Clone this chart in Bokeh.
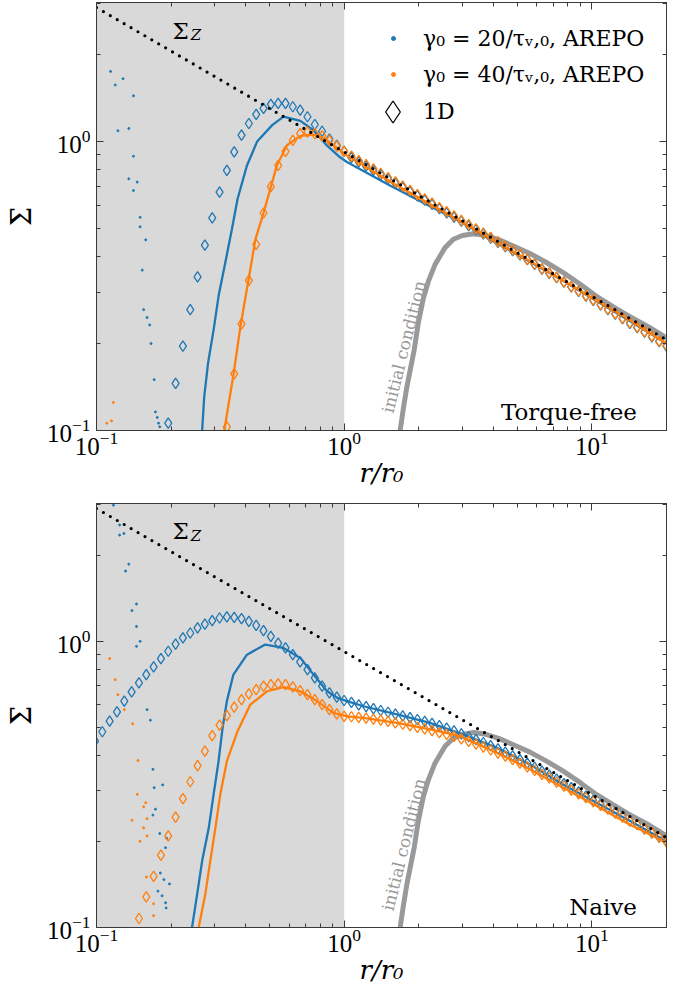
import numpy as np
from bokeh.plotting import figure
from bokeh.layouts import column
from bokeh.models import (BoxAnnotation, Label, Legend, LegendItem, LogAxis,
                          FixedTicker, Range1d)
from bokeh.core.properties import value
from bokeh.embed import file_html
from bokeh.resources import INLINE

# ---------------- data ----------------
x_lo, x_hi = 0.1, 20.0
y_lo, y_hi = 0.1, 3.03
shade_edge = 1.0

x_major = [0.1, 1.0, 10.0]
x_minor = [0.2, 0.3, 0.4, 0.5, 0.6, 0.7, 0.8, 0.9, 2, 3, 4, 5, 6, 7, 8, 9, 20]
y_major = [0.1, 1.0]
y_minor = [0.2, 0.3, 0.4, 0.5, 0.6, 0.7, 0.8, 0.9, 2, 3]

# Sigma_Z (dotted power law)
sigma_z_r = [0.1, 20.0]
sigma_z = [2.91, 0.206]

# initial condition
init_r = [1.64, 1.682, 1.735, 1.79, 1.916, 1.99, 2.088, 2.188, 2.328, 2.553, 2.759, 3.0,
          3.322, 3.7, 4.2, 4.816, 5.62, 6.5, 7.66, 9.0, 10.45, 12.2, 14.2, 17.0, 20.0]
init_sigma = [0.075, 0.1, 0.12, 0.1415, 0.19, 0.235, 0.2876, 0.3287, 0.3758, 0.4296, 0.459, 0.473,
              0.48, 0.474, 0.458, 0.435, 0.41, 0.383, 0.352, 0.32, 0.291, 0.268, 0.248, 0.228, 0.209]

# radial grid of the 1D solutions (log-spaced sampling)
grid_1d = np.geomspace(0.0986, 20.0, 79)

# ---- top panel: torque-free ----
top_arepo20_r = [0.264, 0.267, 0.272, 0.282, 0.297, 0.311, 0.331, 0.352, 0.371, 0.405, 0.445, 0.512,
                 0.569, 0.665, 0.752, 0.851, 0.95, 1.025, 1.53, 2.2, 3.0, 4.0, 5.5, 7.5, 10.0, 14.0, 20.0]
top_arepo20 = [0.093, 0.10, 0.13, 0.171, 0.223, 0.292, 0.381, 0.497, 0.633, 0.827, 1.0, 1.14,
               1.22, 1.18, 1.095, 0.97, 0.89, 0.85, 0.705, 0.60, 0.525, 0.452, 0.388, 0.333, 0.287, 0.241, 0.200]
top_arepo40_r = [0.326, 0.328, 0.358, 0.381, 0.411, 0.438, 0.473, 0.535, 0.587, 0.665, 0.752, 0.826,
                 0.905, 1.025, 1.53, 2.2, 3.0, 4.0, 5.5, 7.5, 10.0, 14.0, 20.0]
top_arepo40 = [0.094, 0.1, 0.158, 0.229, 0.333, 0.459, 0.569, 0.827, 0.971, 1.047, 1.058, 1.03,
               0.971, 0.896, 0.727, 0.61, 0.527, 0.456, 0.39, 0.334, 0.288, 0.243, 0.200]
top_noise20_r = [0.114, 0.119, 0.128, 0.141, 0.122, 0.135, 0.141, 0.135, 0.141, 0.146, 0.150, 0.150,
                 0.158, 0.153, 0.155, 0.160, 0.164, 0.166, 0.171, 0.173, 0.176, 0.178, 0.180]
top_noise20 = [1.75, 1.57, 1.65, 1.44, 1.09, 1.11, 0.89, 0.743, 0.677, 0.724, 0.547, 0.507,
               0.457, 0.359, 0.262, 0.246, 0.232, 0.20, 0.15, 0.116, 0.111, 0.106, 0.103]
top_noise40_r = [0.117, 0.110, 0.115]
top_noise40 = [0.125, 0.106, 0.108]
# 1D values on the last len(...) points of grid_1d
top_1d20 = [0.106, 0.1455, 0.196, 0.262, 0.340, 0.438, 0.544, 0.668, 0.795, 0.921,
            1.052, 1.155, 1.242, 1.303, 1.345, 1.356, 1.356, 1.32, 1.285, 1.219,
            1.146, 1.086, 1.02, 0.97, 0.925,
            0.880, 0.850, 0.822, 0.795, 0.768, 0.743, 0.718, 0.694, 0.671, 0.649,
            0.627, 0.606, 0.586, 0.567, 0.548, 0.530, 0.512, 0.496, 0.479, 0.463,
            0.448, 0.433, 0.419, 0.405, 0.390, 0.376, 0.362, 0.350, 0.338, 0.326,
            0.314, 0.303, 0.292, 0.282, 0.272, 0.262, 0.253, 0.244, 0.235, 0.227,
            0.219, 0.211, 0.203, 0.196]
top_1d40 = [0.103, 0.157, 0.234, 0.331, 0.441, 0.566, 0.699, 0.827, 0.925, 1.01,
            1.066, 1.08, 1.066, 1.047, 1.01, 0.965, 0.925,
            0.890, 0.860, 0.832, 0.804, 0.777, 0.751, 0.726, 0.701, 0.678, 0.655,
            0.633, 0.612, 0.591, 0.572, 0.553, 0.534, 0.516, 0.499, 0.482, 0.466,
            0.450, 0.435, 0.421, 0.407, 0.391, 0.377, 0.363, 0.351, 0.339, 0.327,
            0.315, 0.304, 0.293, 0.283, 0.273, 0.263, 0.254, 0.245, 0.236, 0.228,
            0.220, 0.212, 0.204, 0.197]

# ---- bottom panel: naive ----
bot_arepo20_r = [0.241, 0.243, 0.255, 0.267, 0.284, 0.297, 0.311, 0.323, 0.336, 0.357, 0.405, 0.48,
                 0.569, 0.665, 0.752, 0.851, 0.94, 1.025, 1.197, 1.632, 2.22, 3.03, 4.13, 5.62,
                 7.66, 10.45, 14.2, 20.0]
bot_arepo20 = [0.094, 0.1, 0.131, 0.171, 0.223, 0.292, 0.381, 0.5, 0.618, 0.765, 0.898, 0.974,
               0.948, 0.875, 0.765, 0.67, 0.634, 0.618, 0.593, 0.555, 0.519, 0.472, 0.425, 0.371,
               0.316, 0.273, 0.236, 0.200]
bot_arepo40_r = [0.255, 0.2585, 0.275, 0.288, 0.302, 0.316, 0.336, 0.371, 0.418, 0.488, 0.569, 0.665,
                 0.776, 0.905, 1.025, 1.197, 1.632, 2.22, 2.94, 4.13, 5.62, 7.66, 10.45, 14.2, 20.0]
bot_arepo40 = [0.094, 0.1, 0.131, 0.171, 0.223, 0.292, 0.381, 0.485, 0.601, 0.669, 0.691, 0.669,
               0.618, 0.562, 0.547, 0.54, 0.519, 0.492, 0.466, 0.408, 0.357, 0.308, 0.266, 0.229, 0.198]
bot_noise20_r = [0.117, 0.124, 0.124, 0.129, 0.135, 0.131, 0.145, 0.139, 0.145, 0.150,
                 0.145, 0.160, 0.165, 0.169, 0.171, 0.185, 0.173, 0.169, 0.180, 0.192,
                 0.190, 0.181, 0.187, 0.197, 0.177, 0.184, 0.190, 0.191]
bot_noise20 = [2.99, 2.55, 2.35, 2.38, 1.86, 1.76, 1.349, 1.28, 1.127, 1.0,
               0.96, 0.577, 0.53, 0.357, 0.308, 0.315, 0.259, 0.247, 0.213, 0.205,
               0.19, 0.155, 0.147, 0.142, 0.134, 0.129, 0.122, 0.117]
bot_noise40_r = [0.113, 0.119, 0.122, 0.1296, 0.14, 0.147, 0.146, 0.158, 0.155, 0.139,
                 0.16, 0.155, 0.16, 0.15, 0.159, 0.17, 0.17]
bot_noise40 = [0.87, 0.734, 0.651, 0.577, 0.515, 0.383, 0.292, 0.273, 0.264, 0.237,
               0.24, 0.223, 0.209, 0.2, 0.15, 0.121, 0.11]
bot_1d20 = [0.448, 0.483, 0.526, 0.567, 0.618, 0.666, 0.716, 0.765, 0.814, 0.87, 0.923,
            0.978, 1.027, 1.069, 1.113, 1.149, 1.18, 1.206, 1.218, 1.212, 1.2,
            1.174, 1.137, 1.089, 1.041, 0.986, 0.948, 0.899, 0.847, 0.796, 0.745,
            0.697, 0.66, 0.638, 0.621,
            0.612, 0.600, 0.591, 0.582, 0.573, 0.565, 0.557, 0.549, 0.541, 0.533,
            0.525, 0.517, 0.507, 0.497, 0.486, 0.475, 0.464, 0.453, 0.443, 0.432,
            0.421, 0.410, 0.398, 0.386, 0.375, 0.363, 0.352, 0.341, 0.330, 0.318,
            0.308, 0.298, 0.288, 0.278, 0.270, 0.261, 0.253, 0.245, 0.236, 0.229,
            0.221, 0.214, 0.207, 0.200]
bot_1d40 = [0.1075, 0.128, 0.151, 0.179, 0.209, 0.243, 0.282, 0.323, 0.368, 0.413,
            0.468, 0.509, 0.55, 0.589, 0.626, 0.655, 0.678, 0.697, 0.706, 0.710,
            0.706, 0.693, 0.673, 0.651, 0.626, 0.601, 0.577, 0.558, 0.547,
            0.545, 0.542, 0.539, 0.535, 0.530, 0.525, 0.519, 0.513, 0.507, 0.500,
            0.494, 0.487, 0.480, 0.473, 0.465, 0.456, 0.447, 0.437, 0.427, 0.417,
            0.407, 0.397, 0.386, 0.375, 0.364, 0.354, 0.343, 0.333, 0.322, 0.312,
            0.302, 0.293, 0.284, 0.275, 0.267, 0.259, 0.251, 0.243, 0.236, 0.229,
            0.221, 0.214, 0.207, 0.199]

legend_labels = ["γ₀ = 20/τᵥ,₀, AREPO", "γ₀ = 40/τᵥ,₀, AREPO", "1D"]
panel_names = ["Torque-free", "Naive"]

# ---------------- style ----------------
BLUE, ORANGE = "#1f77b4", "#ff7f0e"
AXC = "#3a3a3a"
SHADE = "#d9d9d9"
INIT_C = "#999999"
SERIF = "DejaVu Serif"
TICKF = "Liberation Serif"
W = 668


def style_axis(ax, labels=True):
    ax.major_tick_in = 7
    ax.major_tick_out = 0
    ax.minor_tick_in = 4
    ax.minor_tick_out = 0
    ax.axis_line_color = AXC
    ax.major_tick_line_color = AXC
    ax.minor_tick_line_color = AXC
    if labels:
        ax.major_label_text_font = TICKF
        ax.major_label_text_font_size = "25px"
        ax.major_label_text_color = "black"
        ax.axis_label_text_color = "black"
    else:
        ax.major_label_text_font_size = "0px"
        ax.major_label_text_alpha = 0
        ax.major_label_standoff = 0


def make_panel(h, b_top, b_bottom, a20_r, a20, a40_r, a40, n20_r, n20, n40_r, n40,
               d20, d40, name, name_y):
    p = figure(width=W, height=h, x_axis_type="log", y_axis_type="log",
               x_range=Range1d(x_lo, x_hi), y_range=Range1d(y_lo, y_hi),
               output_backend="svg", toolbar_location=None,
               min_border_left=96, min_border_right=2,
               min_border_top=b_top, min_border_bottom=b_bottom)
    p.xgrid.visible = False
    p.ygrid.visible = False
    p.outline_line_color = AXC
    p.background_fill_color = "white"

    p.xaxis.ticker = FixedTicker(ticks=x_major, minor_ticks=x_minor)
    p.yaxis.ticker = FixedTicker(ticks=y_major, minor_ticks=y_minor)
    for ax in p.xaxis + p.yaxis:
        style_axis(ax)
    p.xaxis.major_label_standoff = 1
    p.yaxis.major_label_standoff = 6
    p.xaxis.axis_label = "r/r₀"
    p.xaxis.axis_label_text_font = SERIF
    p.xaxis.axis_label_text_font_style = "italic"
    p.xaxis.axis_label_text_font_size = "26px"
    p.xaxis.axis_label_standoff = 0
    p.yaxis.axis_label = "Σ"
    p.yaxis.axis_label_text_font = SERIF
    p.yaxis.axis_label_text_font_style = "normal"
    p.yaxis.axis_label_text_font_size = "27px"
    p.yaxis.axis_label_standoff = 7

    top_ax = LogAxis(ticker=FixedTicker(ticks=x_major, minor_ticks=x_minor))
    style_axis(top_ax, labels=False)
    p.add_layout(top_ax, "above")
    right_ax = LogAxis(ticker=FixedTicker(ticks=y_major, minor_ticks=y_minor))
    style_axis(right_ax, labels=False)
    p.add_layout(right_ax, "right")

    p.add_layout(BoxAnnotation(right=shade_edge, fill_color=SHADE, fill_alpha=1.0,
                               line_alpha=0, level="underlay"))

    p.line(init_r, init_sigma, line_color=INIT_C, line_width=5)

    r_n20 = p.scatter(n20_r, n20, marker="circle", size=2.0, color=BLUE)
    p.line(a20_r, a20, line_color=BLUE, line_width=2.3)
    p.scatter(grid_1d[-len(d20):], d20, marker="diamond", size=10.5, line_color=BLUE,
              fill_alpha=0, line_width=1.3)
    r_n40 = p.scatter(n40_r, n40, marker="circle", size=2.0, color=ORANGE)
    p.line(a40_r, a40, line_color=ORANGE, line_width=2.3)
    p.scatter(grid_1d[-len(d40):], d40, marker="diamond", size=10.5, line_color=ORANGE,
              fill_alpha=0, line_width=1.3)

    p.line(sigma_z_r, sigma_z, line_color="black", line_width=3.2, line_dash="0 8",
           line_cap="round")

    p.add_layout(Label(x=0.2025, y=2.42, text="Σ", text_font=SERIF, text_font_size="23px",
                       text_color="black", text_baseline="alphabetic", text_align="left"))
    p.add_layout(Label(x=0.240, y=2.33, text="Z", text_font=SERIF, text_font_size="15px",
                       text_color="black", text_font_style="italic",
                       text_baseline="alphabetic", text_align="left"))
    p.add_layout(Label(x=1.74, y=0.195, text="initial condition", angle=76, angle_units="deg",
                       text_align="center", text_baseline="middle", text_color=INIT_C,
                       text_font=SERIF, text_font_size="17px"))
    p.add_layout(Label(x=15.2, y=name_y, text=name, text_align="right", text_color="black",
                       text_baseline="alphabetic", text_font=SERIF, text_font_size="23px"))
    return p, r_n20, r_n40


p1, n20_top, n40_top = make_panel(496, 2, 66, top_arepo20_r, top_arepo20, top_arepo40_r, top_arepo40,
                                  top_noise20_r, top_noise20, top_noise40_r, top_noise40,
                                  top_1d20, top_1d40, panel_names[0], 0.1156)
p2, _, _ = make_panel(493, 7, 62, bot_arepo20_r, bot_arepo20, bot_arepo40_r, bot_arepo40,
                      bot_noise20_r, bot_noise20, bot_noise40_r, bot_noise40,
                      bot_1d20, bot_1d40, panel_names[1], 0.1175)

# legend-only marker for the 1D entry (no visible data point)
dummy_1d = p1.scatter([np.nan], [np.nan], marker="diamond", line_color="black",
                      fill_alpha=0, line_width=1.3)


def make_legend(label, renderer, loc, glyph, standoff):
    # loc = (left, bottom) of the legend box, in pixels inside the frame
    return Legend(items=[LegendItem(label=value(label), renderers=[renderer])],
                  location=loc, padding=0, margin=0, border_line_alpha=0,
                  background_fill_alpha=0, label_text_font=SERIF,
                  label_text_color="black",
                  label_text_font_size="22px", glyph_width=glyph, glyph_height=glyph,
                  label_height=26, label_standoff=standoff)


p1.add_layout(make_legend(legend_labels[0], n20_top, (292, 379), 10, 25))
p1.add_layout(make_legend(legend_labels[1], n40_top, (292, 343), 10, 25))
p1.add_layout(make_legend(legend_labels[2], dummy_1d, (269, 291), 55, 3))

layout = column(p1, p2)
open("out.html", "w").write(file_html(layout, INLINE))
